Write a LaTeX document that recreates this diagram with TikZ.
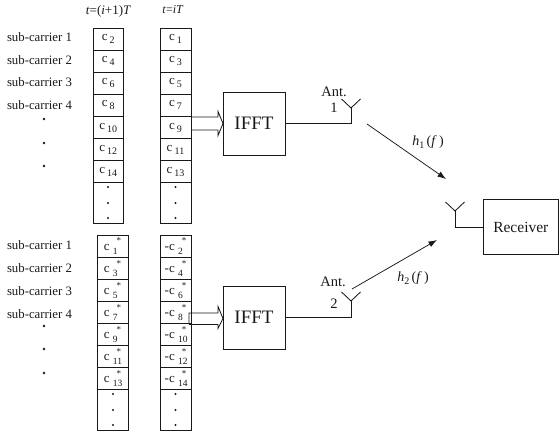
\documentclass[tikz,border=0pt]{standalone}
\usepackage{fontspec}
\setmainfont{Liberation Serif}
\usetikzlibrary{arrows.meta}
\newcommand\sbs[1]{\raisebox{-.5ex}{\fontsize{10}{10}\selectfont #1}}
\newcommand\cs[1]{\rlap{\raisebox{-.65ex}{\fontsize{9.5}{9.5}\selectfont #1}}\raisebox{1.05ex}{\fontsize{9}{9}\selectfont\hspace{.42em}*}}
\tikzset{
  x=1pt,y=-1pt,
  every node/.style={inner sep=0pt,outer sep=0pt},
  line/.style={draw=black!90,line width=.85pt},
  cell/.style={line,anchor=north west,minimum width=#1,minimum height=22.2pt,font=\fontsize{13}{13}\selectfont,text=black!90},
  endcell/.style={line,anchor=north west,minimum width=#1,minimum height=41pt},
  lab/.style={font=\fontsize{12.8}{13}\selectfont,text=black!90},
  sublab/.style={lab,anchor=west},
  hdr/.style={font=\fontsize{12}{12}\selectfont,text=black!90},
  dotnode/.style={circle,fill=black!90,minimum size=2.6pt},
  smalldot/.style={circle,fill=black!90,minimum size=2.2pt},
  block/.style={line,anchor=north west},
  ant/.style={line},
  link/.style={draw=black!90,line width=.75pt,-{Latex[length=8.5pt,width=6pt]}}
}
\begin{document}
\begin{tikzpicture}
\useasboundingbox (0,0) rectangle (559,435);
% headers
\node[hdr,font=\fontsize{13}{13}\selectfont] (h1) at (108.5,11) {\textit{t}=(\textit{i}+1)\textit{T}};
\node[hdr] (h2) at (173,10) {\textit{t}=\textit{iT}};
% sub-carrier labels
\foreach \n/\y in {1/37,2/60,3/82,4/105}{
  \node[sublab] (ua\n) at (7,\y) {sub-carrier \n};
}
\foreach \n/\y in {1/245,2/268,3/291,4/314}{
  \node[sublab] (la\n) at (7,\y) {sub-carrier \n};
}
\foreach \n/\y in {1/119,2/143,3/166,4/326,5/349,6/373}{
  \node[dotnode] (d\n) at (44,\y) {};
}
% upper left column
\foreach \r/\t [count=\k from 0] in {1/c\,\sbs{2},2/c\,\sbs{4},3/c\,\sbs{6},4/c\,\sbs{8},5/c\,\sbs{10},6/c\,\sbs{12},7/c\,\sbs{14}}{
  \node[cell=30.5pt] (ua-\r) at (93,28+\k*22.1) {\t};
}
\node[endcell=30.5pt] (ua-8) at (93,182.7) {};
% upper right column
\foreach \r/\t [count=\k from 0] in {1/c\,\sbs{1},2/c\,\sbs{3},3/c\,\sbs{5},4/c\,\sbs{7},5/c\,\sbs{9},6/c\,\sbs{11},7/c\,\sbs{13}}{
  \node[cell=31pt] (ub-\r) at (160,28+\k*22.1) {\t};
}
\node[endcell=31pt] (ub-8) at (160,182.7) {};
% lower left column
\foreach \r/\t [count=\k from 0] in {1/c \cs{1},2/c \cs{3},3/c \cs{5},4/c \cs{7},5/c \cs{9},6/c \cs{11},7/c \cs{13}}{
  \node[cell=31pt] (la-\r) at (97,235+\k*22.1) {\t};
}
\node[endcell=31pt] (la-8) at (97,389.7) {};
% lower right column
\foreach \r/\t [count=\k from 0] in {1/-c \cs{2},2/-c \cs{4},3/-c \cs{6},4/-c \cs{8},5/-c \cs{10},6/-c \cs{12},7/-c \cs{14}}{
  \node[cell=31pt] (lb-\r) at (160,235+\k*22.1) {\t};
}
\node[endcell=31pt] (lb-8) at (160,389.7) {};
% dots in end cells
\foreach \c/\x/\t in {ua/108/183,ub/175.5/183,la/113/390,lb/175.5/390}{
  \foreach \dy [count=\j] in {4,20,35}{
    \node[smalldot] (\c-dot\j) at (\x,\t+\dy) {};
  }
}
% IFFT blocks
\node[block,minimum width=62pt,minimum height=63pt,font=\fontsize{19}{19}\selectfont,text=black!90] (ifa) at (223,92) {IFFT};
\node[block,minimum width=62pt,minimum height=63pt,font=\fontsize{19}{19}\selectfont,text=black!90] (ifb) at (223,286) {IFFT};
% block arrows
\draw[line,shift={(ifa.west)}] (-32,-6.5) -- (-5,-6.5) -- (-5,-12) -- (0,0) -- (-5,12) -- (-5,6.5) -- (-32,6.5);
\draw[line,shift={(ifb.west)}] (-34,6.5) -- (-34,-4.5) -- (-5,-4.5) -- (-5,-11) -- (0,1) -- (-5,11) -- (-5,7) -- (-34,7);
% antennas
\coordinate (a1) at (351,108);
\coordinate (a2) at (351,301);
\coordinate (a3) at (455,211);
\draw[ant] (ifa.east) -| (a1);
\draw[ant] (ifb.east) -| (a2);
\foreach \a in {a1,a2,a3}{
  \draw[ant,shift={(\a)}] (-9.5,-9) -- (0,0) -- (9.5,-9);
}
\node[lab,font=\fontsize{14.5}{15}\selectfont] (t1) at (334,92) {Ant.};
\node[lab,font=\fontsize{14.5}{15}\selectfont] (n1) at (334,108) {1};
\node[lab,font=\fontsize{14.5}{15}\selectfont] (t2) at (333,282) {Ant.};
\node[lab,font=\fontsize{14.5}{15}\selectfont] (n2) at (334,304) {2};
% receiver
\node[block,minimum width=75.6pt,minimum height=55pt,font=\fontsize{15.5}{16}\selectfont,text=black!90] (rx) at (483,199.5) {Receiver};
\draw[ant] (a3) |- (rx.west);
% channel arrows
\coordinate (s1) at (367,124);
\coordinate (e1) at (446,179);
\coordinate (s2) at (352,289);
\coordinate (e2) at (437,240);
\draw[link] (s1) -- (e1);
\draw[link] (s2) -- (e2);
\node[hdr,font=\fontsize{14}{14}\selectfont] (h1f) at (428,142) {\textit{h}\sbs{1}\,(\textit{f}\,)};
\node[hdr,font=\fontsize{14}{14}\selectfont] (h2f) at (413,278) {\textit{h}\sbs{2}\,(\textit{f}\,)};
\end{tikzpicture}
\end{document}
